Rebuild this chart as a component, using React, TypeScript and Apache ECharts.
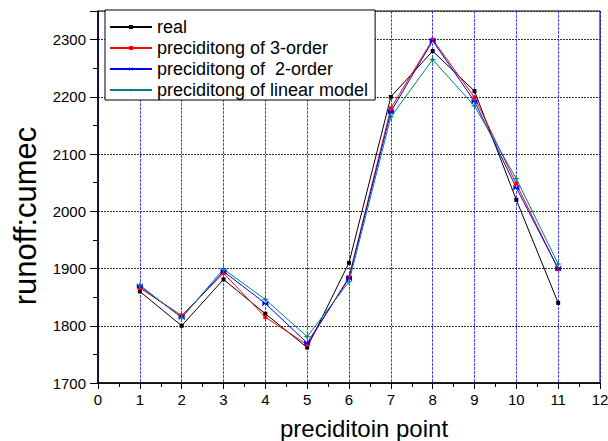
import React, { useEffect, useRef } from "react";
import * as echarts from "echarts";

const xPoints = [1, 2, 3, 4, 5, 6, 7, 8, 9, 10, 11];
const realValues = [1860, 1800, 1881, 1821, 1762, 1910, 2200, 2280, 2210, 2020, 1840];
const order3Values = [1866, 1818, 1892, 1815, 1767, 1885, 2180, 2300, 2199, 2048, 1899];
const order2Values = [1869, 1815, 1895, 1839, 1770, 1883, 2174, 2298, 2192, 2041, 1900];
const linearValues = [1871, 1814, 1899, 1846, 1781, 1877, 2165, 2265, 2184, 2057, 1908];
const seriesNames = [
  "real",
  "preciditong of 3-order",
  "preciditong of  2-order",
  "preciditong of linear model",
];
const xAxisTitle = "preciditoin point";
const yAxisTitle = "runoff:cumec";

const FONT = "'Liberation Sans', Arial, sans-serif";
const xSymbol = "path://M0,0 L10,10 L10,0 L0,10 Z";
const starSymbol = "path://M5,0 L6,4 L10,5 L6,6 L5,10 L4,6 L0,5 L4,4 Z";

export default function App() {
  const ref = useRef<HTMLDivElement>(null);
  useEffect(() => {
    if (!ref.current) return;
    const chart = echarts.init(ref.current, null, { renderer: "svg" });
    const pairs = (vals: number[]) => xPoints.map((x, i) => [x, vals[i]]);
    const mk = (name: string, vals: number[], color: string, symbol: string, size: number) => ({
      name,
      type: "line",
      data: pairs(vals),
      symbol,
      symbolSize: size,
      showSymbol: true,
      lineStyle: { color, width: 1 },
      itemStyle: { color },
      z: 3,
    });
    chart.setOption({
      animation: false,
      backgroundColor: "#fff",
      textStyle: { fontFamily: FONT },
      grid: {
        left: 98,
        right: 8,
        top: 11,
        bottom: 58,
        containLabel: false,
        outerBoundsMode: "none",
        show: true,
        borderColor: "#000",
        borderWidth: 1,
        backgroundColor: "transparent",
      },
      graphic: [
        {
          type: "text",
          x: 364,
          y: 428,
          style: {
            text: xAxisTitle,
            fontSize: 24,
            fontFamily: FONT,
            fill: "#000",
            align: "center",
            verticalAlign: "middle",
          },
        },
        {
          type: "text",
          x: 25,
          y: 216,
          rotation: Math.PI / 2,
          style: {
            text: yAxisTitle,
            fontSize: 31,
            fontFamily: FONT,
            fill: "#000",
            align: "center",
            verticalAlign: "middle",
          },
        },
      ],
      legend: {
        orient: "vertical",
        left: 105,
        top: 10,
        padding: [8, 7, 1, 4],
        itemWidth: 42,
        itemHeight: 5,
        itemGap: 3,
        backgroundColor: "#fff",
        borderColor: "#000",
        borderWidth: 1,
        borderRadius: 0,
        textStyle: { fontSize: 18, color: "#000", fontFamily: FONT, lineHeight: 18 },
        data: seriesNames,
        z: 10,
      },
      xAxis: {
        type: "value",
        min: 0,
        max: 12,
        interval: 1,
        axisLine: { onZero: false, lineStyle: { color: "#000", width: 1.5 } },
        axisTick: { show: true, inside: false, length: 6, lineStyle: { color: "#000" } },
        minorTick: { show: true, splitNumber: 2, length: 4, lineStyle: { color: "#000" } },
        axisLabel: { fontSize: 15, color: "#000", margin: 9, fontFamily: FONT, formatter: (v: number) => String(v) },
        splitLine: {
          show: true,
          lineStyle: { color: "rgba(0,0,255,0.75)", type: [3, 1], width: 1 },
        },
      },
      yAxis: {
        type: "value",
        min: 1700,
        max: 2350,
        interval: 100,
        axisLine: { show: true, lineStyle: { color: "#000", width: 1.5 } },
        axisTick: { show: true, inside: false, length: 8, lineStyle: { color: "#000" } },
        minorTick: { show: true, splitNumber: 2, length: 5, lineStyle: { color: "#000" } },
        axisLabel: {
          fontSize: 15,
          color: "#000",
          margin: 12,
          showMaxLabel: false,
          fontFamily: FONT,
          formatter: (v: number) => (v > 2300 ? "" : String(v)),
        },
        splitLine: {
          show: true,
          lineStyle: { color: "#333", type: [2, 1], width: 1 },
        },
      },
      series: [
        mk(seriesNames[0], realValues, "#000000", "rect", 4),
        mk(seriesNames[1], order3Values, "#ff0000", "rect", 4),
        mk(seriesNames[2], order2Values, "#0000ff", xSymbol, 6),
        mk(seriesNames[3], linearValues, "#008080", starSymbol, 8),
      ],
    });
    return () => chart.dispose();
  }, []);
  return <div ref={ref} style={{ width: 608, height: 441, position: "absolute", left: 0, top: 0 }} />;
}
